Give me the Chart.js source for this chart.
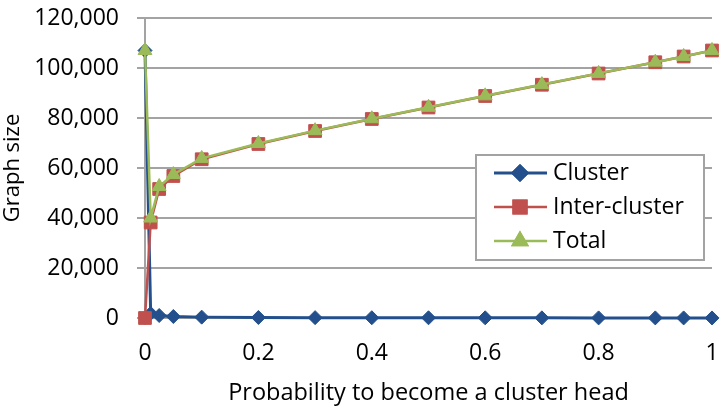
<!DOCTYPE html>
<html>
<head>
<meta charset="utf-8">
<script src="https://cdn.jsdelivr.net/npm/chart.js@4.4.1/dist/chart.umd.min.js"></script>
<style>
  html, body { margin: 0; padding: 0; background: #ffffff; }
  #wrap { width: 722px; height: 411px; position: relative; }
</style>
</head>
<body>
<div id="wrap"><canvas id="chart" width="722" height="411"></canvas></div>
<script>
// Probability of a node becoming a cluster head
const probabilities = [0, 0.01, 0.025, 0.05, 0.1, 0.2, 0.3, 0.4, 0.5, 0.6, 0.7, 0.8, 0.9, 0.95, 1];

// Graph sizes for each probability
const clusterSize      = [107000, 1800, 1000, 600, 350, 200, 150, 110, 90, 70, 60, 50, 40, 30, 20];
const interClusterSize = [0, 38200, 51600, 56800, 63500, 69600, 74800, 79600, 84200, 88800, 93300, 97800, 102300, 104600, 107000];
const totalSize        = [107000, 40000, 52600, 57400, 63850, 69800, 74950, 79710, 84290, 88870, 93360, 97850, 102340, 104630, 107020];

const seriesNames = ['Cluster', 'Inter-cluster', 'Total'];
const yTickValues = [0, 20000, 40000, 60000, 80000, 100000, 120000];
const xTickValues = [0, 0.2, 0.4, 0.6, 0.8, 1];

const FONT = '"Open Sans", "Noto Sans", sans-serif';
const GRID = '#a3a3a3';

const BLUE = '#23508d';
const RED = '#c0504d';
const GREEN = '#9bbb59';

function points(values) {
  return probabilities.map((p, i) => ({ x: p, y: values[i] }));
}

const styles = [
  { color: BLUE,  pointStyle: 'rectRot',  radius: 7, width: 3 },
  { color: RED,   pointStyle: 'rect',     radius: 9, width: 2.5 },
  { color: GREEN, pointStyle: 'triangle', radius: 8, width: 2.5 }
];

// Boxed legend drawn inside the plot area
const innerLegend = {
  id: 'innerLegend',
  afterDatasetsDraw(chart) {
    const ctx = chart.ctx;
    const box = { x: 476, y: 155, w: 228, h: 105 };
    ctx.save();
    ctx.fillStyle = '#ffffff';
    ctx.fillRect(box.x, box.y, box.w, box.h);
    ctx.strokeStyle = GRID;
    ctx.lineWidth = 2;
    ctx.strokeRect(box.x, box.y, box.w, box.h);
    const rows = [173, 207, 241];
    seriesNames.forEach((name, i) => {
      const s = styles[i];
      const cy = rows[i];
      ctx.strokeStyle = s.color;
      ctx.lineWidth = s.width;
      ctx.beginPath();
      ctx.moveTo(494, cy);
      ctx.lineTo(547, cy);
      ctx.stroke();
      ctx.fillStyle = s.color;
      Chart.helpers.drawPoint(ctx, {
        pointStyle: s.pointStyle, radius: s.radius, rotation: 0, borderWidth: 1
      }, 520, cy);
      ctx.fill();
      ctx.stroke();
      ctx.fillStyle = '#000000';
      ctx.font = '23px ' + FONT;
      ctx.textBaseline = 'middle';
      ctx.textAlign = 'left';
      ctx.fillText(name, 553, cy);
    });
    ctx.restore();
  }
};

const series = [clusterSize, interClusterSize, totalSize];

new Chart(document.getElementById('chart'), {
  type: 'line',
  data: {
    datasets: series.map((vals, i) => ({
      label: seriesNames[i],
      data: points(vals),
      borderColor: styles[i].color,
      backgroundColor: styles[i].color,
      borderWidth: styles[i].width,
      pointStyle: styles[i].pointStyle,
      pointRadius: styles[i].radius,
      pointBorderWidth: 1,
      pointBorderColor: styles[i].color,
      pointBackgroundColor: styles[i].color,
      tension: 0,
      clip: false,
      order: 2 - i
    }))
  },
  options: {
    responsive: false,
    animation: false,
    events: [],
    layout: { padding: { top: 18, right: 7, left: 0, bottom: 0 } },
    plugins: {
      legend: { display: false },
      tooltip: { enabled: false }
    },
    scales: {
      x: {
        type: 'linear',
        min: 0,
        max: 1,
        afterBuildTicks(scale) { scale.ticks = xTickValues.map(v => ({ value: v })); },
        afterFit(scale) {
          scale.height = 93;
          scale.paddingLeft = 0;
          scale.paddingRight = 0;
        },
        ticks: {
          color: '#000000',
          font: { family: FONT, size: 23 },
          padding: 15,
          maxRotation: 0,
          callback: v => String(+v.toFixed(1))
        },
        grid: {
          drawOnChartArea: false,
          tickLength: 7,
          lineWidth: 2,
          color: ctx => (ctx.tick && ctx.tick.value === 0 ? GRID : 'rgba(0,0,0,0)')
        },
        border: { display: false },
        title: {
          display: true,
          text: 'Probability to become a cluster head',
          color: '#000000',
          font: { family: FONT, size: 23.5 },
          padding: { top: 0, bottom: 4 }
        }
      },
      y: {
        min: 0,
        max: 120000,
        afterBuildTicks(scale) { scale.ticks = yTickValues.map(v => ({ value: v })); },
        afterFit(scale) {
          scale.width = 145;
          scale.paddingTop = 0;
          scale.paddingBottom = 0;
        },
        ticks: {
          color: '#000000',
          font: { family: FONT, size: 23 },
          padding: 18,
          callback: v => Number(v).toLocaleString('en-US')
        },
        grid: {
          color: GRID,
          lineWidth: 2,
          tickLength: 8
        },
        border: { color: GRID, width: 2 },
        title: {
          display: true,
          text: 'Graph size',
          color: '#000000',
          font: { family: FONT, size: 22 },
          padding: { top: 0, bottom: 0 }
        }
      }
    }
  },
  plugins: [innerLegend]
});
</script>
</body>
</html>
